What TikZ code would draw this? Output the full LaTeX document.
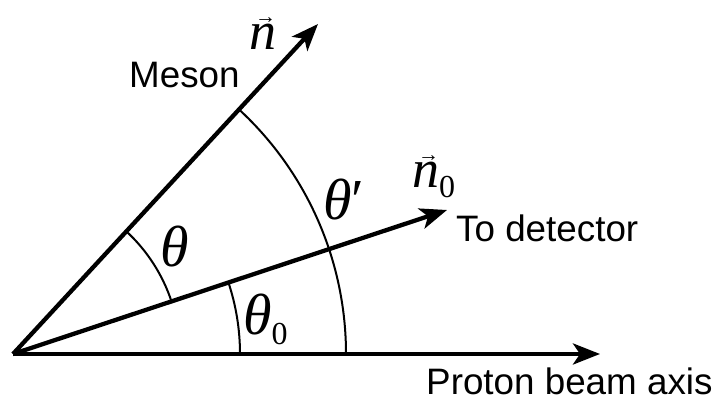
\documentclass[tikz,border=0pt]{standalone}
\usepackage{fontspec}
\setmainfont{Liberation Sans}
\newfontfamily\tms{Liberation Serif}
\usetikzlibrary{arrows.meta}
\newcommand\vecsym[1]{\leavevmode\vbox{\offinterlineskip\halign{\hfil##\hfil\cr\hskip6pt{\fontsize{21}{21}\selectfont\tms\upshape →}\cr\noalign{\kern1pt}#1\cr}}}
\begin{document}
\begin{tikzpicture}[x=1pt,y=1pt,
  thickline/.style={line width=4.3pt,-{Stealth[length=27pt,width=21pt,inset=7pt]}},
  arcline/.style={line width=2pt},
  lbl/.style={inner sep=0pt,anchor=base west,font=\fontsize{36.8}{44}\selectfont},
  gk/.style={inner sep=0pt,anchor=base west,font=\fontsize{58}{64}\selectfont\tms\itshape},
  vk/.style={inner sep=0pt,anchor=base west,font=\fontsize{54}{60}\selectfont\tms\itshape}]
\useasboundingbox (0,0) rectangle (719,403);
\coordinate (O) at (13,49);
\coordinate (M) at (318,379);
\coordinate (D) at (447,193);
\coordinate (A) at (600,49);
% arcs
\draw[arcline] (O) ++(18.4:167) arc[start angle=18.4,end angle=47.2,radius=167];
\draw[arcline] (O) ++(0:227) arc[start angle=0,end angle=18.4,radius=227];
\draw[arcline] (O) ++(0:333) arc[start angle=0,end angle=47.2,radius=333];
% rays
\draw[thickline] (O) -- (A);
\draw[thickline] (O) -- (D);
\draw[thickline] (O) -- (M);
% labels
\node[lbl] (meson) at (129,315) {Meson};
\node[lbl] (todet) at (456,161) {To detector};
\node[lbl] (proton) at (426,8) {Proton beam axis};
\node[gk] (th) at (160,136) {θ};
\node[gk] (th0) at (243,68) {θ\raisebox{-10pt}{\fontsize{32}{32}\selectfont\upshape 0}};
\node[gk] (thp) at (323,183) {θ\upshape ′};
\node[vk] (nv) at (249,353) {\vecsym{n}};
\node[vk] (nv0) at (412,215) {\vecsym{n}\raisebox{-10pt}{\fontsize{32}{32}\selectfont\upshape 0}};
\end{tikzpicture}
\end{document}
